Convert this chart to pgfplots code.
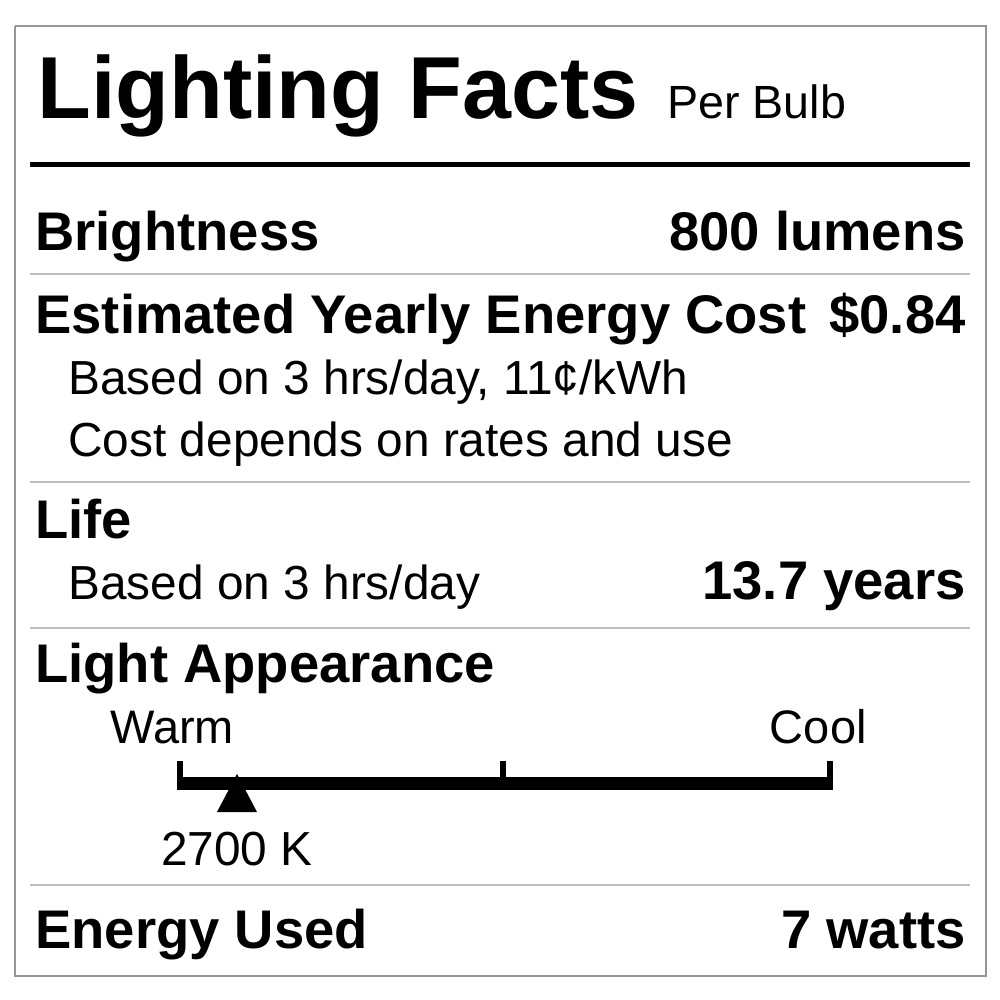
\documentclass[border=0pt]{standalone}
\usepackage{pgfplots}
\pgfplotsset{compat=1.18}
\usepackage{fontspec}
\setmainfont{Liberation Sans}
\definecolor{bordergray}{RGB}{150,150,150}
\definecolor{rulegray}{RGB}{190,190,190}
\newcommand{\fs}[1]{\fontsize{#1bp}{#1bp}\selectfont}
\begin{document}
\begin{tikzpicture}
\begin{axis}[
  width=500bp, height=500bp, scale only axis,
  xmin=0, xmax=1000, ymin=0, ymax=1000, y dir=reverse,
  hide axis, clip=false,
]
% bounding box corners
\addplot[draw=none, forget plot] coordinates {(0,0) (1000,1000)};
% outer border
\addplot[draw=bordergray, line width=0.75bp] coordinates {(15,26) (986,26) (986,976) (15,976) (15,26)};
% thick rule under title
\addplot[black, line width=2.5bp] coordinates {(30,164.5) (970,164.5)};
% thin separators
\addplot[rulegray, line width=0.6bp] coordinates {(30,274) (970,274)};
\addplot[rulegray, line width=0.6bp] coordinates {(30,482) (970,482)};
\addplot[rulegray, line width=0.6bp] coordinates {(30,628) (970,628)};
\addplot[rulegray, line width=0.6bp] coordinates {(30,885) (970,885)};
% colour scale bar
\addplot[black, line width=6.5bp, line cap=butt] coordinates {(177,783.5) (833,783.5)};
\addplot[black, line width=3bp, line cap=butt] coordinates {(180,761) (180,790)};
\addplot[black, line width=3bp, line cap=butt] coordinates {(503,761) (503,790)};
\addplot[black, line width=3bp, line cap=butt] coordinates {(830,761) (830,790)};
% marker at 2700 K
\addplot[fill=black, draw=none] coordinates {(217,812) (237,774) (257,812)} -- cycle;

% texts
\node[anchor=base west, inner sep=0pt] at (axis cs:37,118) {\fs{44}\bfseries Lighting Facts};
\node[anchor=base west, inner sep=0pt] at (axis cs:667,118) {\fs{23.3}Per Bulb};

\node[anchor=base west, inner sep=0pt] at (axis cs:35,250) {\fs{27.2}\bfseries Brightness};
\node[anchor=base east, inner sep=0pt] at (axis cs:966,250) {\fs{27.2}\bfseries 800 lumens};

\node[anchor=base west, inner sep=0pt] at (axis cs:35,333) {\fs{27.2}\bfseries Estimated Yearly Energy Cost};
\node[anchor=base east, inner sep=0pt] at (axis cs:966,333) {\fs{27.2}\bfseries \$0.84};
\node[anchor=base west, inner sep=0pt] at (axis cs:68,394) {\fs{23.9}Based on 3 hrs/day, 11¢/kWh};
\node[anchor=base west, inner sep=0pt] at (axis cs:68,456) {\fs{23.9}Cost depends on rates and use};

\node[anchor=base west, inner sep=0pt] at (axis cs:35,538) {\fs{27.2}\bfseries Life};
\node[anchor=base west, inner sep=0pt] at (axis cs:68,599) {\fs{23.9}Based on 3 hrs/day};
\node[anchor=base east, inner sep=0pt] at (axis cs:966,599) {\fs{27.2}\bfseries 13.7 years};

\node[anchor=base west, inner sep=0pt] at (axis cs:35,682) {\fs{27.2}\bfseries Light Appearance};
\node[anchor=base west, inner sep=0pt] at (axis cs:110,743) {\fs{23.5}Warm};
\node[anchor=base east, inner sep=0pt] at (axis cs:867,743) {\fs{23.5}Cool};
\node[anchor=base, inner sep=0pt] at (axis cs:237,865) {\fs{23.9}2700 K};

\node[anchor=base west, inner sep=0pt] at (axis cs:35,948) {\fs{27.2}\bfseries Energy Used};
\node[anchor=base east, inner sep=0pt] at (axis cs:966,948) {\fs{27.2}\bfseries 7 watts};
\end{axis}
\end{tikzpicture}
\end{document}
